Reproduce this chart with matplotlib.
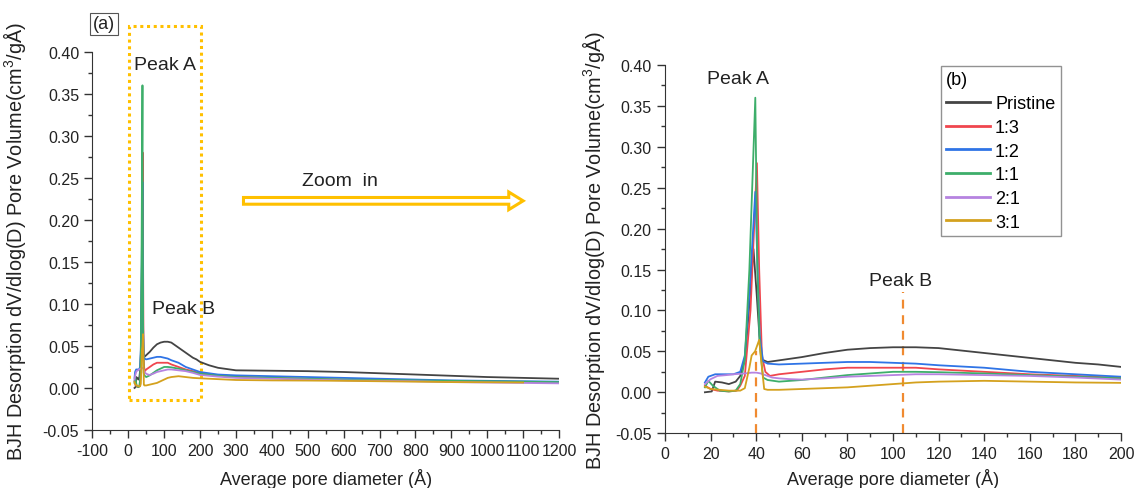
import numpy as np
import matplotlib
matplotlib.use("Agg")
import matplotlib.pyplot as plt
from matplotlib.patches import FancyArrow, Rectangle
from matplotlib.ticker import MultipleLocator

plt.rcParams["font.family"] = ["Liberation Sans", "DejaVu Sans"]
plt.rcParams["mathtext.fontset"] = "custom"
plt.rcParams["mathtext.rm"] = "Liberation Sans"
plt.rcParams["axes.unicode_minus"] = False

# pore diameter (A) and dV/dlog(D)
x_pristine = [17.5, 20.5, 22, 25, 28, 31, 33, 35, 36.5, 38.8, 40.2, 41.5, 42.5, 45, 50, 60, 70, 80, 90, 100,
              110, 120, 130, 140, 150, 160, 170, 180, 190, 200, 225, 250, 300, 400, 500, 600, 700, 800, 900,
              1000, 1100, 1200]
y_pristine = [0.000, 0.001, 0.013, 0.012, 0.010, 0.013, 0.020, 0.040, 0.090, 0.175, 0.120, 0.065, 0.040, 0.037,
              0.039, 0.043, 0.048, 0.052, 0.054, 0.055, 0.055, 0.054, 0.051, 0.048, 0.045, 0.042, 0.039, 0.036,
              0.034, 0.031, 0.027, 0.024, 0.021, 0.0205, 0.020, 0.019, 0.0175, 0.016, 0.0145, 0.013, 0.012, 0.011]

x_13 = [17.5, 20, 23, 28, 31.5, 33, 35, 37.5, 40.3, 41.3, 42.5, 44, 46, 50, 60, 70, 80, 90, 100, 110, 120, 140,
        160, 180, 200, 250, 300, 400, 500, 600, 700, 800, 900, 1000, 1100, 1200]
y_13 = [0.008, 0.004, 0.002, 0.001, 0.002, 0.008, 0.020, 0.100, 0.280, 0.150, 0.045, 0.025, 0.020, 0.022, 0.025,
        0.028, 0.030, 0.030, 0.030, 0.030, 0.028, 0.025, 0.022, 0.020, 0.0175, 0.015, 0.0135, 0.012, 0.011, 0.010,
        0.0095, 0.009, 0.008, 0.0075, 0.007, 0.0065]

x_12 = [17.5, 19, 22, 26, 30, 33, 35, 37, 39.6, 40.6, 41.5, 43, 45, 50, 60, 70, 80, 90, 100, 110, 120, 140, 160,
        180, 200, 250, 300, 400, 500, 600, 700, 800, 900, 1000, 1100, 1200]
y_12 = [0.012, 0.019, 0.022, 0.022, 0.022, 0.025, 0.045, 0.120, 0.245, 0.150, 0.070, 0.038, 0.035, 0.034, 0.035,
        0.036, 0.037, 0.037, 0.036, 0.035, 0.033, 0.030, 0.025, 0.022, 0.019, 0.016, 0.015, 0.014, 0.013, 0.012,
        0.011, 0.010, 0.009, 0.0085, 0.008, 0.0075]

x_11 = [17.5, 19, 21, 24, 28, 31, 33, 35, 37, 39.6, 40.5, 41.5, 43, 45, 50, 60, 70, 80, 90, 100, 110, 120, 140,
        160, 180, 200, 250, 300, 400, 500, 600, 700, 800, 900, 1000, 1100, 1200]
y_11 = [0.006, 0.014, 0.008, 0.002, 0.001, 0.002, 0.010, 0.040, 0.150, 0.360, 0.150, 0.060, 0.018, 0.015, 0.013,
        0.015, 0.018, 0.021, 0.023, 0.025, 0.025, 0.0245, 0.023, 0.021, 0.019, 0.017, 0.0145, 0.013, 0.012, 0.011,
        0.010, 0.0095, 0.009, 0.0085, 0.008, 0.0075, 0.007]

x_21 = [17.5, 20, 23, 27, 30, 35, 38, 40, 42, 44, 47, 50, 55, 60, 70, 80, 90, 100, 110, 120, 140, 160, 180, 200,
        250, 300, 400, 500, 600, 700, 800, 900, 1000, 1100, 1200]
y_21 = [0.010, 0.016, 0.020, 0.021, 0.022, 0.023, 0.024, 0.024, 0.023, 0.021, 0.018, 0.017, 0.016, 0.0155, 0.017,
        0.019, 0.020, 0.021, 0.022, 0.022, 0.021, 0.020, 0.018, 0.0155, 0.0135, 0.012, 0.011, 0.010, 0.009, 0.0085,
        0.008, 0.007, 0.0065, 0.006, 0.0055]

x_31 = [17.5, 20, 24, 28, 33, 35, 37, 38, 39.5, 41.3, 42.5, 43.5, 45, 50, 60, 70, 80, 90, 100, 110, 120, 140, 160,
        180, 200, 250, 300, 400, 500, 600, 700, 800, 900, 1000, 1100]
y_31 = [0.007, 0.004, 0.003, 0.002, 0.002, 0.005, 0.030, 0.045, 0.050, 0.064, 0.030, 0.004, 0.003, 0.003, 0.004,
        0.005, 0.006, 0.008, 0.010, 0.012, 0.013, 0.014, 0.013, 0.012, 0.0115, 0.0105, 0.0095, 0.009, 0.0088,
        0.0085, 0.008, 0.0075, 0.007, 0.0068, 0.0065]

labels = ["Pristine", "1:3", "1:2", "1:1", "2:1", "3:1"]
colors = ["#444444", "#F0464E", "#2F74E6", "#3DAE6A", "#B683E0", "#D4A11E"]
xs = [x_pristine, x_13, x_12, x_11, x_21, x_31]
ys = [y_pristine, y_13, y_12, y_11, y_21, y_31]

ylabel = "BJH Desorption dV/dlog(D) Pore Volume(cm$^3$/gÅ)"
xlabel = "Average pore diameter (Å)"

fig = plt.figure(figsize=(11.36, 4.89), dpi=100)
ax1 = fig.add_axes([0.0813, 0.1186, 0.4108, 0.7736])
ax2 = fig.add_axes([0.5854, 0.1121, 0.4014, 0.7530])

for ax in (ax1, ax2):
    for x, y, c, lab in zip(xs, ys, colors, labels):
        ax.plot(x, y, color=c, lw=1.3, label=lab)
    ax.spines["top"].set_visible(False)
    ax.spines["right"].set_visible(False)
    ax.spines["left"].set_color("#333333")
    ax.spines["bottom"].set_color("#333333")
    ax.set_ylim(-0.05, 0.40)
    ax.yaxis.set_major_locator(MultipleLocator(0.05))
    ax.yaxis.set_minor_locator(MultipleLocator(0.025))
    ax.yaxis.set_major_formatter(plt.FormatStrFormatter("%.2f"))
    ax.tick_params(which="major", direction="out", length=6, width=1, colors="#333333", labelsize=11.5,
                   labelcolor="#222222")
    ax.tick_params(which="minor", direction="out", length=3, width=1, colors="#333333")
    ax.set_ylabel(ylabel, fontsize=14.3, color="#222222")
    ax.set_xlabel(xlabel, fontsize=13, color="#222222")

ax1.set_xlim(-100, 1200)
ax1.xaxis.set_major_locator(MultipleLocator(100))
ax1.xaxis.set_minor_locator(MultipleLocator(50))
ax1.xaxis.set_label_coords(0.5, -0.100)
ax1.yaxis.set_label_coords(-0.138, 0.5)

ax2.set_xlim(0, 200)
ax2.xaxis.set_major_locator(MultipleLocator(20))
ax2.xaxis.set_minor_locator(MultipleLocator(10))
ax2.xaxis.set_label_coords(0.5, -0.0945)
ax2.yaxis.set_label_coords(-0.128, 0.5)

# left panel annotations
ax1.add_patch(Rectangle((3, -0.0143), 201, 0.445, fill=False, ec="#FFC000", lw=2.2,
                        ls=(0, (1, 1.2)), clip_on=False))
ax1.add_patch(FancyArrow(321, 0.2226, 779, 0, width=0.008, head_width=0.021, head_length=40,
                         length_includes_head=True, fc="white", ec="#FFC000", lw=2.2, clip_on=False))
ax1.text(590, 0.247, "Zoom  in", fontsize=14, ha="center", va="center", color="#222222")
ax1.text(101, 0.385, "Peak A", fontsize=14, ha="center", va="center", color="#222222")
ax1.text(155, 0.094, "Peak B", fontsize=14, ha="center", va="center", color="#222222")
fig.text(0.0915, 0.949, "(a)", fontsize=13, ha="center", va="center", color="#222222",
         bbox=dict(boxstyle="square,pad=0.15", fc="white", ec="#555555", lw=0.8))

# right panel annotations
ax2.plot([40, 40], [-0.05, 0.05], color="#F08A30", lw=1.6, ls=(0, (4, 3)), zorder=0)
ax2.plot([104.3, 104.3], [-0.05, 0.1226], color="#F08A30", lw=1.6, ls=(0, (4, 3)), zorder=0)
ax2.text(31.9, 0.383, "Peak A", fontsize=14, ha="center", va="center", color="#222222")
ax2.text(103.2, 0.136, "Peak B", fontsize=14, ha="center", va="center", color="#222222")

leg = ax2.legend(loc="upper left", bbox_to_anchor=(0.605, 0.997), title="(b)", fontsize=13,
                 title_fontsize=13, alignment="left", frameon=True, fancybox=False,
                 handlelength=2.4, handletextpad=0.3, labelspacing=0.37, borderpad=0.3,
                 borderaxespad=0)
leg.get_frame().set_edgecolor("#777777")
leg.get_frame().set_linewidth(1.0)
for line in leg.get_lines():
    line.set_linewidth(2)

fig.savefig("out.png", dpi=100)
